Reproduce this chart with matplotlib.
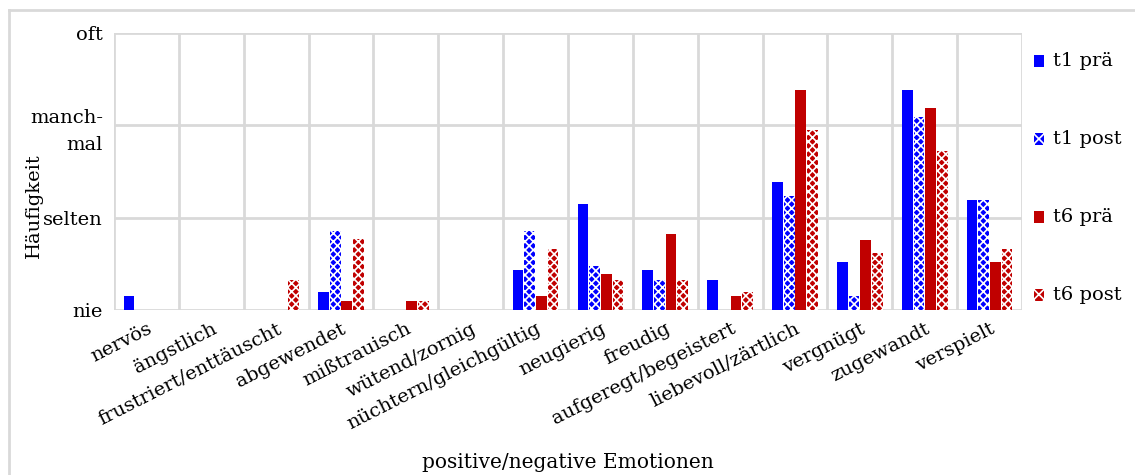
import matplotlib
matplotlib.use("Agg")
import matplotlib.pyplot as plt
import numpy as np
from matplotlib.lines import Line2D

plt.rcParams["font.family"] = ["DejaVu Serif"]
plt.rcParams["hatch.linewidth"] = 1.2

categories = ["nervös", "ängstlich", "frustriert/enttäuscht", "abgewendet",
              "mißtrauisch", "wütend/zornig", "nüchtern/gleichgültig", "neugierig",
              "freudig", "aufgeregt/begeistert", "liebevoll/zärtlich", "vergnügt",
              "zugewandt", "verspielt"]

t1_prae = [0.15, 0.0, 0.0, 0.19, 0.0, 0.0, 0.43, 1.15, 0.43, 0.33, 1.39, 0.52, 2.38, 1.19]
t1_post = [0.0, 0.0, 0.0, 0.86, 0.0, 0.0, 0.86, 0.48, 0.33, 0.0, 1.24, 0.15, 2.09, 1.19]
t6_prae = [0.0, 0.0, 0.0, 0.10, 0.10, 0.0, 0.15, 0.39, 0.82, 0.15, 2.38, 0.76, 2.19, 0.52]
t6_post = [0.0, 0.0, 0.33, 0.77, 0.10, 0.0, 0.66, 0.33, 0.33, 0.19, 1.95, 0.62, 1.72, 0.66]

series_labels = ["t1 prä", "t1 post", "t6 prä", "t6 post"]
y_ticks = [0, 1, 2, 3]
y_ticklabels = ["nie", "selten", "manch-\nmal", "oft"]

BLUE = "#0000FF"
RED = "#C00000"
GRID = "#D9D9D9"

series = [
    (t1_prae, BLUE, None),
    (t1_post, BLUE, "xxxx"),
    (t6_prae, RED, None),
    (t6_post, RED, "xxxx"),
]

fig = plt.figure(figsize=(11.35, 4.75), dpi=100)
ax = fig.add_axes([114 / 1135, 1 - 310 / 475, 908 / 1135, 277 / 475])

x = np.arange(len(categories))
width = 0.165
step = 0.18
for i, (vals, color, hatch) in enumerate(series):
    pos = x + (i - 1.5) * step
    if hatch is None:
        ax.bar(pos, vals, width, color=color, linewidth=0, zorder=3)
    else:
        ax.bar(pos, vals, width, facecolor=color, edgecolor="white",
               hatch=hatch, linewidth=0, zorder=3)

ax.set_xlim(-0.5, len(categories) - 0.5)
ax.set_ylim(0, 3)
ax.set_yticks(y_ticks)
ax.set_yticklabels(y_ticklabels, fontsize=14, linespacing=1.6)
ax.set_xticks(x)
ax.set_xticklabels(categories, rotation=27, ha="right", rotation_mode="anchor",
                   fontsize=14)
ax.tick_params(axis="both", length=0)
ax.tick_params(axis="x", pad=7)
ax.tick_params(axis="y", pad=8)

# gridlines: horizontal at each level, vertical at category boundaries
for yv in y_ticks:
    ax.axhline(yv, color=GRID, lw=2, zorder=1)
for b in np.arange(-0.5, len(categories), 1.0):
    ax.axvline(b, color=GRID, lw=2, zorder=1)
for s in ax.spines.values():
    s.set_visible(False)

ax.set_ylabel("Häufigkeit", fontsize=14)
ax.yaxis.set_label_coords(-0.078, 0.375)
fig.text(568 / 1135, 1 - 462 / 475, "positive/negative Emotionen", fontsize=14.5,
         ha="center", va="center")

# legend entries on the right
legend_y = [61, 139, 217, 295]
for (vals, color, hatch), lab, ly in zip(series, series_labels, legend_y):
    fy = 1 - ly / 475
    if hatch is None:
        p = plt.Rectangle((1034 / 1135, fy - 6 / 475), 10 / 1135, 12 / 475,
                          transform=fig.transFigure, facecolor=color, lw=0)
    else:
        p = plt.Rectangle((1034 / 1135, fy - 6 / 475), 10 / 1135, 12 / 475,
                          transform=fig.transFigure, facecolor=color,
                          edgecolor="white", hatch="xxx", lw=0)
    fig.add_artist(p)
    fig.text(1053 / 1135, fy, lab, fontsize=14, ha="left", va="center")

# outer frame
fig.add_artist(Line2D([9 / 1135, 9 / 1135], [0, 1 - 10 / 475],
                      transform=fig.transFigure, color=GRID, lw=2))
fig.add_artist(Line2D([9 / 1135, 1], [1 - 10 / 475, 1 - 10 / 475],
                      transform=fig.transFigure, color=GRID, lw=2))

fig.savefig("out.png", dpi=100)
